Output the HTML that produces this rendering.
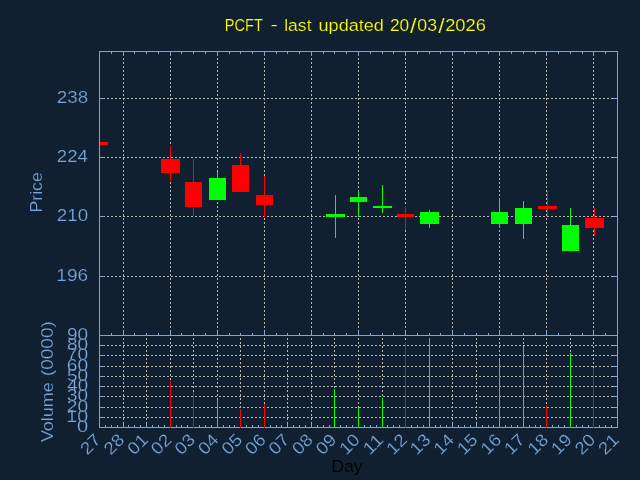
<!DOCTYPE html><html><head><meta charset="utf-8"><title>PCFT</title><style>html,body{margin:0;padding:0;background:#112030;overflow:hidden}svg{display:block;will-change:transform}text{font-family:"Liberation Sans",sans-serif;stroke:#112030;stroke-width:.2px}</style></head><body>
<svg width="640" height="480" viewBox="0 0 640 480">
<rect width="640" height="480" fill="#112030"/>
<g stroke="#b9b8b4" stroke-width="1" stroke-dasharray="2,2" shape-rendering="crispEdges" fill="none">
<path d="M99 98.5H617"/>
<path d="M99 157.5H617"/>
<path d="M99 216.5H617"/>
<path d="M99 276.5H617"/>
<path stroke-dashoffset="1" d="M123.5 51V335"/>
<path stroke-dashoffset="1" d="M170.5 51V335"/>
<path stroke-dashoffset="1" d="M217.5 51V335"/>
<path stroke-dashoffset="1" d="M264.5 51V335"/>
<path stroke-dashoffset="1" d="M311.5 51V335"/>
<path stroke-dashoffset="1" d="M358.5 51V335"/>
<path stroke-dashoffset="1" d="M405.5 51V335"/>
<path stroke-dashoffset="1" d="M452.5 51V335"/>
<path stroke-dashoffset="1" d="M499.5 51V335"/>
<path stroke-dashoffset="1" d="M546.5 51V335"/>
<path stroke-dashoffset="1" d="M593.5 51V335"/>
<path d="M99 417.5H617"/>
<path d="M99 407.5H617"/>
<path d="M99 396.5H617"/>
<path d="M99 386.5H617"/>
<path d="M99 376.5H617"/>
<path d="M99 366.5H617"/>
<path d="M99 355.5H617"/>
<path d="M99 345.5H617"/>
<path stroke-dashoffset="1" d="M123.5 335V427"/>
<path stroke-dashoffset="1" d="M146.5 335V427"/>
<path stroke-dashoffset="1" d="M170.5 335V427"/>
<path stroke-dashoffset="1" d="M193.5 335V427"/>
<path stroke-dashoffset="1" d="M217.5 335V427"/>
<path stroke-dashoffset="1" d="M240.5 335V427"/>
<path stroke-dashoffset="1" d="M264.5 335V427"/>
<path stroke-dashoffset="1" d="M287.5 335V427"/>
<path stroke-dashoffset="1" d="M311.5 335V427"/>
<path stroke-dashoffset="1" d="M334.5 335V427"/>
<path stroke-dashoffset="1" d="M358.5 335V427"/>
<path stroke-dashoffset="1" d="M382.5 335V427"/>
<path stroke-dashoffset="1" d="M405.5 335V427"/>
<path stroke-dashoffset="1" d="M429.5 335V427"/>
<path stroke-dashoffset="1" d="M452.5 335V427"/>
<path stroke-dashoffset="1" d="M476.5 335V427"/>
<path stroke-dashoffset="1" d="M499.5 335V427"/>
<path stroke-dashoffset="1" d="M523.5 335V427"/>
<path stroke-dashoffset="1" d="M546.5 335V427"/>
<path stroke-dashoffset="1" d="M570.5 335V427"/>
<path stroke-dashoffset="1" d="M593.5 335V427"/>
</g>
<g shape-rendering="crispEdges">
<rect x="100" y="142" width="8" height="3" fill="#ff0000"/>
<rect x="170" y="146" width="1" height="35" fill="#ff0000"/>
<rect x="161" y="159" width="19" height="14" fill="#ff0000"/>
<rect x="193" y="159" width="1" height="57" fill="#ff0000"/>
<rect x="185" y="182" width="17" height="25" fill="#ff0000"/>
<rect x="217" y="172" width="1" height="28" fill="#00ff00"/>
<rect x="209" y="178" width="17" height="22" fill="#00ff00"/>
<rect x="240" y="153" width="1" height="39" fill="#ff0000"/>
<rect x="232" y="165" width="17" height="27" fill="#ff0000"/>
<rect x="264" y="176" width="1" height="41" fill="#ff0000"/>
<rect x="256" y="195" width="17" height="10" fill="#ff0000"/>
<rect x="335" y="195" width="1" height="43" fill="#00ff00"/>
<rect x="326" y="214" width="19" height="3" fill="#00ff00"/>
<rect x="358" y="191" width="1" height="26" fill="#00ff00"/>
<rect x="350" y="197" width="17" height="5" fill="#00ff00"/>
<rect x="382" y="185" width="1" height="28" fill="#00ff00"/>
<rect x="373" y="206" width="19" height="2" fill="#00ff00"/>
<rect x="405" y="206" width="1" height="24" fill="#ff0000"/>
<rect x="397" y="214" width="17" height="3" fill="#ff0000"/>
<rect x="429" y="210" width="1" height="18" fill="#00ff00"/>
<rect x="420" y="212" width="19" height="12" fill="#00ff00"/>
<rect x="499" y="198" width="1" height="30" fill="#00ff00"/>
<rect x="491" y="212" width="17" height="12" fill="#00ff00"/>
<rect x="523" y="201" width="1" height="38" fill="#00ff00"/>
<rect x="515" y="208" width="17" height="16" fill="#00ff00"/>
<rect x="547" y="191" width="1" height="25" fill="#ff0000"/>
<rect x="538" y="206" width="19" height="3" fill="#ff0000"/>
<rect x="570" y="208" width="1" height="43" fill="#00ff00"/>
<rect x="562" y="225" width="17" height="26" fill="#00ff00"/>
<rect x="594" y="208" width="1" height="28" fill="#ff0000"/>
<rect x="585" y="218" width="19" height="10" fill="#ff0000"/>
</g>
<g stroke="#7aa6da" stroke-width="1" shape-rendering="crispEdges" fill="none">
<path d="M99.5 51.5H617.5V427.5H99.5Z"/>
<path d="M99 335.5H618"/>
<path d="M111.5 52v2"/>
<path d="M111.5 335v-2"/>
<path d="M123.5 52v4"/>
<path d="M123.5 335v-4"/>
<path d="M134.5 52v2"/>
<path d="M134.5 335v-2"/>
<path d="M146.5 52v2"/>
<path d="M146.5 335v-2"/>
<path d="M158.5 52v2"/>
<path d="M158.5 335v-2"/>
<path d="M170.5 52v4"/>
<path d="M170.5 335v-4"/>
<path d="M181.5 52v2"/>
<path d="M181.5 335v-2"/>
<path d="M193.5 52v2"/>
<path d="M193.5 335v-2"/>
<path d="M205.5 52v2"/>
<path d="M205.5 335v-2"/>
<path d="M217.5 52v4"/>
<path d="M217.5 335v-4"/>
<path d="M229.5 52v2"/>
<path d="M229.5 335v-2"/>
<path d="M240.5 52v2"/>
<path d="M240.5 335v-2"/>
<path d="M252.5 52v2"/>
<path d="M252.5 335v-2"/>
<path d="M264.5 52v4"/>
<path d="M264.5 335v-4"/>
<path d="M276.5 52v2"/>
<path d="M276.5 335v-2"/>
<path d="M287.5 52v2"/>
<path d="M287.5 335v-2"/>
<path d="M299.5 52v2"/>
<path d="M299.5 335v-2"/>
<path d="M311.5 52v4"/>
<path d="M311.5 335v-4"/>
<path d="M323.5 52v2"/>
<path d="M323.5 335v-2"/>
<path d="M334.5 52v2"/>
<path d="M334.5 335v-2"/>
<path d="M346.5 52v2"/>
<path d="M346.5 335v-2"/>
<path d="M358.5 52v4"/>
<path d="M358.5 335v-4"/>
<path d="M370.5 52v2"/>
<path d="M370.5 335v-2"/>
<path d="M382.5 52v2"/>
<path d="M382.5 335v-2"/>
<path d="M393.5 52v2"/>
<path d="M393.5 335v-2"/>
<path d="M405.5 52v4"/>
<path d="M405.5 335v-4"/>
<path d="M417.5 52v2"/>
<path d="M417.5 335v-2"/>
<path d="M429.5 52v2"/>
<path d="M429.5 335v-2"/>
<path d="M440.5 52v2"/>
<path d="M440.5 335v-2"/>
<path d="M452.5 52v4"/>
<path d="M452.5 335v-4"/>
<path d="M464.5 52v2"/>
<path d="M464.5 335v-2"/>
<path d="M476.5 52v2"/>
<path d="M476.5 335v-2"/>
<path d="M488.5 52v2"/>
<path d="M488.5 335v-2"/>
<path d="M499.5 52v4"/>
<path d="M499.5 335v-4"/>
<path d="M511.5 52v2"/>
<path d="M511.5 335v-2"/>
<path d="M523.5 52v2"/>
<path d="M523.5 335v-2"/>
<path d="M535.5 52v2"/>
<path d="M535.5 335v-2"/>
<path d="M546.5 52v4"/>
<path d="M546.5 335v-4"/>
<path d="M558.5 52v2"/>
<path d="M558.5 335v-2"/>
<path d="M570.5 52v2"/>
<path d="M570.5 335v-2"/>
<path d="M582.5 52v2"/>
<path d="M582.5 335v-2"/>
<path d="M593.5 52v4"/>
<path d="M593.5 335v-4"/>
<path d="M605.5 52v2"/>
<path d="M605.5 335v-2"/>
<path d="M100 98.5h4"/>
<path d="M617 98.5h-4"/>
<path d="M100 157.5h4"/>
<path d="M617 157.5h-4"/>
<path d="M100 216.5h4"/>
<path d="M617 216.5h-4"/>
<path d="M100 276.5h4"/>
<path d="M617 276.5h-4"/>
<path d="M105.5 427v-2"/>
<path d="M111.5 427v-2"/>
<path d="M117.5 427v-2"/>
<path d="M123.5 427v-4"/>
<path d="M128.5 427v-2"/>
<path d="M134.5 427v-2"/>
<path d="M140.5 427v-2"/>
<path d="M146.5 427v-4"/>
<path d="M152.5 427v-2"/>
<path d="M158.5 427v-2"/>
<path d="M164.5 427v-2"/>
<path d="M170.5 427v-4"/>
<path d="M176.5 427v-2"/>
<path d="M181.5 427v-2"/>
<path d="M187.5 427v-2"/>
<path d="M193.5 427v-4"/>
<path d="M199.5 427v-2"/>
<path d="M205.5 427v-2"/>
<path d="M211.5 427v-2"/>
<path d="M217.5 427v-4"/>
<path d="M223.5 427v-2"/>
<path d="M229.5 427v-2"/>
<path d="M234.5 427v-2"/>
<path d="M240.5 427v-4"/>
<path d="M246.5 427v-2"/>
<path d="M252.5 427v-2"/>
<path d="M258.5 427v-2"/>
<path d="M264.5 427v-4"/>
<path d="M270.5 427v-2"/>
<path d="M276.5 427v-2"/>
<path d="M281.5 427v-2"/>
<path d="M287.5 427v-4"/>
<path d="M293.5 427v-2"/>
<path d="M299.5 427v-2"/>
<path d="M305.5 427v-2"/>
<path d="M311.5 427v-4"/>
<path d="M317.5 427v-2"/>
<path d="M323.5 427v-2"/>
<path d="M329.5 427v-2"/>
<path d="M334.5 427v-4"/>
<path d="M340.5 427v-2"/>
<path d="M346.5 427v-2"/>
<path d="M352.5 427v-2"/>
<path d="M358.5 427v-4"/>
<path d="M364.5 427v-2"/>
<path d="M370.5 427v-2"/>
<path d="M376.5 427v-2"/>
<path d="M382.5 427v-4"/>
<path d="M387.5 427v-2"/>
<path d="M393.5 427v-2"/>
<path d="M399.5 427v-2"/>
<path d="M405.5 427v-4"/>
<path d="M411.5 427v-2"/>
<path d="M417.5 427v-2"/>
<path d="M423.5 427v-2"/>
<path d="M429.5 427v-4"/>
<path d="M435.5 427v-2"/>
<path d="M440.5 427v-2"/>
<path d="M446.5 427v-2"/>
<path d="M452.5 427v-4"/>
<path d="M458.5 427v-2"/>
<path d="M464.5 427v-2"/>
<path d="M470.5 427v-2"/>
<path d="M476.5 427v-4"/>
<path d="M482.5 427v-2"/>
<path d="M488.5 427v-2"/>
<path d="M493.5 427v-2"/>
<path d="M499.5 427v-4"/>
<path d="M505.5 427v-2"/>
<path d="M511.5 427v-2"/>
<path d="M517.5 427v-2"/>
<path d="M523.5 427v-4"/>
<path d="M529.5 427v-2"/>
<path d="M535.5 427v-2"/>
<path d="M540.5 427v-2"/>
<path d="M546.5 427v-4"/>
<path d="M552.5 427v-2"/>
<path d="M558.5 427v-2"/>
<path d="M564.5 427v-2"/>
<path d="M570.5 427v-4"/>
<path d="M576.5 427v-2"/>
<path d="M582.5 427v-2"/>
<path d="M588.5 427v-2"/>
<path d="M593.5 427v-4"/>
<path d="M599.5 427v-2"/>
<path d="M605.5 427v-2"/>
<path d="M611.5 427v-2"/>
<path d="M100 417.5h4"/>
<path d="M617 417.5h-4"/>
<path d="M100 407.5h4"/>
<path d="M617 407.5h-4"/>
<path d="M100 396.5h4"/>
<path d="M617 396.5h-4"/>
<path d="M100 386.5h4"/>
<path d="M617 386.5h-4"/>
<path d="M100 376.5h4"/>
<path d="M617 376.5h-4"/>
<path d="M100 366.5h4"/>
<path d="M617 366.5h-4"/>
<path d="M100 355.5h4"/>
<path d="M617 355.5h-4"/>
<path d="M100 345.5h4"/>
<path d="M617 345.5h-4"/>
</g>
<g shape-rendering="crispEdges">
<rect x="170" y="381" width="1" height="47" fill="#ff0000"/>
<rect x="193" y="392" width="1" height="36" fill="#ff0000"/>
<rect x="217" y="400" width="1" height="28" fill="#00ff00"/>
<rect x="240" y="409" width="1" height="19" fill="#ff0000"/>
<rect x="264" y="404" width="1" height="24" fill="#ff0000"/>
<rect x="334" y="389" width="1" height="39" fill="#00ff00"/>
<rect x="358" y="408" width="1" height="20" fill="#00ff00"/>
<rect x="382" y="398" width="1" height="30" fill="#00ff00"/>
<rect x="405" y="342" width="1" height="86" fill="#ff0000"/>
<rect x="429" y="338" width="1" height="90" fill="#00ff00"/>
<rect x="499" y="358" width="1" height="70" fill="#00ff00"/>
<rect x="523" y="347" width="1" height="81" fill="#00ff00"/>
<rect x="546" y="405" width="1" height="23" fill="#ff0000"/>
<rect x="570" y="353" width="1" height="75" fill="#00ff00"/>
<rect x="593" y="368" width="1" height="60" fill="#ff0000"/>
</g>
<g fill="#7aa6da" font-size="17.2">
<text x="56.79" y="102.5" textLength="31.36" lengthAdjust="spacingAndGlyphs">238</text>
<text x="56.80" y="161.5" textLength="31.07" lengthAdjust="spacingAndGlyphs">224</text>
<text x="56.79" y="220.5" textLength="31.36" lengthAdjust="spacingAndGlyphs">210</text>
<text x="56.36" y="280.5" textLength="31.80" lengthAdjust="spacingAndGlyphs">196</text>
<text x="77.02" y="431.5" textLength="11.19" lengthAdjust="spacingAndGlyphs">0</text>
<text x="66.33" y="421.5" textLength="21.79" lengthAdjust="spacingAndGlyphs">10</text>
<text x="66.77" y="411.5" textLength="21.32" lengthAdjust="spacingAndGlyphs">20</text>
<text x="67.06" y="400.5" textLength="21.02" lengthAdjust="spacingAndGlyphs">30</text>
<text x="67.34" y="390.5" textLength="20.73" lengthAdjust="spacingAndGlyphs">40</text>
<text x="66.92" y="380.5" textLength="21.17" lengthAdjust="spacingAndGlyphs">50</text>
<text x="66.77" y="370.5" textLength="21.32" lengthAdjust="spacingAndGlyphs">60</text>
<text x="66.77" y="359.5" textLength="21.32" lengthAdjust="spacingAndGlyphs">70</text>
<text x="66.92" y="349.5" textLength="21.17" lengthAdjust="spacingAndGlyphs">80</text>
<text x="66.92" y="339.5" textLength="21.17" lengthAdjust="spacingAndGlyphs">90</text>
<text transform="translate(99.0,437.5) rotate(-45)" x="-21.2" y="4.5" textLength="21" lengthAdjust="spacingAndGlyphs">27</text>
<text transform="translate(122.5,437.5) rotate(-45)" x="-21.2" y="4.5" textLength="21" lengthAdjust="spacingAndGlyphs">28</text>
<text transform="translate(146.1,437.5) rotate(-45)" x="-21.2" y="4.5" textLength="21" lengthAdjust="spacingAndGlyphs">01</text>
<text transform="translate(169.6,437.5) rotate(-45)" x="-21.2" y="4.5" textLength="21" lengthAdjust="spacingAndGlyphs">02</text>
<text transform="translate(193.2,437.5) rotate(-45)" x="-21.2" y="4.5" textLength="21" lengthAdjust="spacingAndGlyphs">03</text>
<text transform="translate(216.7,437.5) rotate(-45)" x="-21.2" y="4.5" textLength="21" lengthAdjust="spacingAndGlyphs">04</text>
<text transform="translate(240.3,437.5) rotate(-45)" x="-21.2" y="4.5" textLength="21" lengthAdjust="spacingAndGlyphs">05</text>
<text transform="translate(263.8,437.5) rotate(-45)" x="-21.2" y="4.5" textLength="21" lengthAdjust="spacingAndGlyphs">06</text>
<text transform="translate(287.4,437.5) rotate(-45)" x="-21.2" y="4.5" textLength="21" lengthAdjust="spacingAndGlyphs">07</text>
<text transform="translate(310.9,437.5) rotate(-45)" x="-21.2" y="4.5" textLength="21" lengthAdjust="spacingAndGlyphs">08</text>
<text transform="translate(334.5,437.5) rotate(-45)" x="-21.2" y="4.5" textLength="21" lengthAdjust="spacingAndGlyphs">09</text>
<text transform="translate(358.0,437.5) rotate(-45)" x="-21.2" y="4.5" textLength="21" lengthAdjust="spacingAndGlyphs">10</text>
<text transform="translate(381.5,437.5) rotate(-45)" x="-21.2" y="4.5" textLength="21" lengthAdjust="spacingAndGlyphs">11</text>
<text transform="translate(405.1,437.5) rotate(-45)" x="-21.2" y="4.5" textLength="21" lengthAdjust="spacingAndGlyphs">12</text>
<text transform="translate(428.6,437.5) rotate(-45)" x="-21.2" y="4.5" textLength="21" lengthAdjust="spacingAndGlyphs">13</text>
<text transform="translate(452.2,437.5) rotate(-45)" x="-21.2" y="4.5" textLength="21" lengthAdjust="spacingAndGlyphs">14</text>
<text transform="translate(475.7,437.5) rotate(-45)" x="-21.2" y="4.5" textLength="21" lengthAdjust="spacingAndGlyphs">15</text>
<text transform="translate(499.3,437.5) rotate(-45)" x="-21.2" y="4.5" textLength="21" lengthAdjust="spacingAndGlyphs">16</text>
<text transform="translate(522.8,437.5) rotate(-45)" x="-21.2" y="4.5" textLength="21" lengthAdjust="spacingAndGlyphs">17</text>
<text transform="translate(546.4,437.5) rotate(-45)" x="-21.2" y="4.5" textLength="21" lengthAdjust="spacingAndGlyphs">18</text>
<text transform="translate(569.9,437.5) rotate(-45)" x="-21.2" y="4.5" textLength="21" lengthAdjust="spacingAndGlyphs">19</text>
<text transform="translate(593.5,437.5) rotate(-45)" x="-21.2" y="4.5" textLength="21" lengthAdjust="spacingAndGlyphs">20</text>
<text transform="translate(617.0,437.5) rotate(-45)" x="-21.2" y="4.5" textLength="21" lengthAdjust="spacingAndGlyphs">21</text>
<text transform="translate(42.1,211.2) rotate(-90)" x="-1.42" y="0" textLength="40.44" lengthAdjust="spacingAndGlyphs">Price</text>
<text transform="translate(53,442) rotate(-90)" x="-0.13" y="0" textLength="59.86" lengthAdjust="spacingAndGlyphs">Volume</text>
<text transform="translate(53,442) rotate(-90)" x="65.89" y="0" textLength="54.98" lengthAdjust="spacingAndGlyphs">(0000)</text>
</g>
<text x="224.73" y="30.9" font-size="17.2" fill="#ffff00" textLength="38.09" lengthAdjust="spacingAndGlyphs">PCFT</text>
<text x="284.15" y="30.9" font-size="17.2" fill="#ffff00" textLength="27.38" lengthAdjust="spacingAndGlyphs">last</text>
<text x="318.52" y="30.9" font-size="17.2" fill="#ffff00" textLength="65.38" lengthAdjust="spacingAndGlyphs">updated</text>
<text x="389.92" y="30.9" font-size="17.2" fill="#ffff00" textLength="19.31" lengthAdjust="spacingAndGlyphs">20</text>
<text x="417.36" y="30.9" font-size="17.2" fill="#ffff00" textLength="19.72" lengthAdjust="spacingAndGlyphs">03</text>
<text x="445.17" y="30.9" font-size="17.2" fill="#ffff00" textLength="40.83" lengthAdjust="spacingAndGlyphs">2026</text>
<text x="270.60" y="29.5" font-size="14" fill="#ffff00" textLength="7.47" lengthAdjust="spacingAndGlyphs">-</text>
<text x="410.00" y="32.8" font-size="21" fill="#ffff00" textLength="6.56" lengthAdjust="spacingAndGlyphs">/</text>
<text x="438.20" y="32.8" font-size="21" fill="#ffff00" textLength="6.47" lengthAdjust="spacingAndGlyphs">/</text>
<text x="331.61" y="472" font-size="17.2" fill="#000000" textLength="30.97" lengthAdjust="spacingAndGlyphs">Day</text>
</svg></body></html>
